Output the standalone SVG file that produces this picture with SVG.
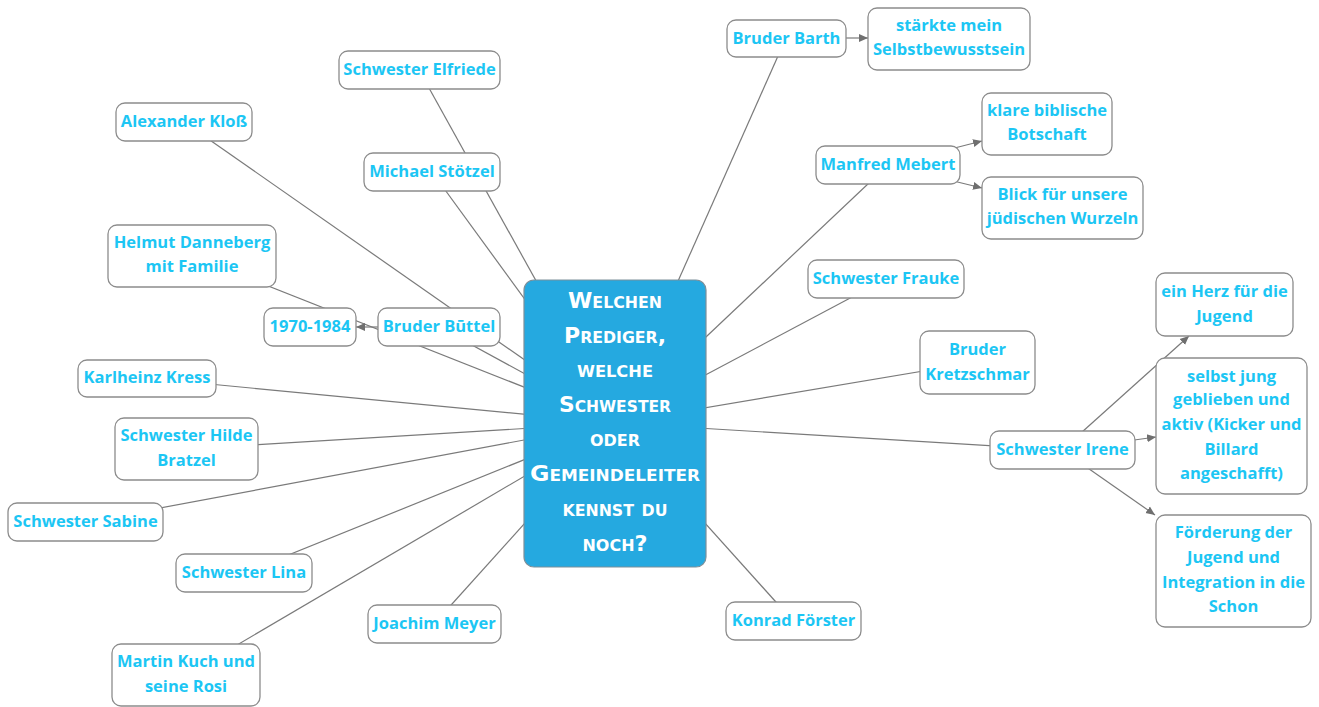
<svg xmlns="http://www.w3.org/2000/svg" width="1319" height="707" viewBox="0 0 1319 707">
<style>
.bg{fill:#ffffff}
.box{fill:#ffffff;stroke:#8c8c8c;stroke-width:1.3}
.t{font-family:"Open Sans","Noto Sans","DejaVu Sans",sans-serif;font-weight:bold;font-size:16.5px;fill:#1cc6f4;text-anchor:middle}
.c{stroke:#7a7a7a;stroke-width:1.2;fill:none}
.a{stroke:#7a7a7a;stroke-width:1.2;fill:none;marker-end:url(#ah)}
.core{fill:#25a9e0;stroke:#7d8f99;stroke-width:1.2}
.ct{font-family:"DejaVu Sans","Liberation Sans",sans-serif;font-weight:bold;font-variant:small-caps;font-size:21px;fill:#ffffff;text-anchor:middle}
</style>
<defs>
<marker id="ah" markerWidth="10" markerHeight="10" refX="9" refY="5" orient="auto" markerUnits="userSpaceOnUse">
<path d="M0,1 L9,5 L0,9 Z" fill="#6f6f6f"/>
</marker>
</defs>
<rect class="bg" x="0" y="0" width="1319" height="707"/>
<g id="connectors">
<line class="c" x1="786" y1="38" x2="615" y2="423"/>
<line class="c" x1="419" y1="70" x2="615" y2="423"/>
<line class="c" x1="184" y1="122" x2="615" y2="423"/>
<line class="c" x1="432" y1="172" x2="615" y2="423"/>
<line class="c" x1="888" y1="165" x2="615" y2="423"/>
<line class="c" x1="192" y1="256" x2="615" y2="423"/>
<line class="c" x1="886" y1="279" x2="615" y2="423"/>
<line class="c" x1="439" y1="327" x2="615" y2="423"/>
<line class="c" x1="977" y1="362" x2="615" y2="423"/>
<line class="c" x1="147" y1="378" x2="615" y2="423"/>
<line class="c" x1="186" y1="449" x2="615" y2="423"/>
<line class="c" x1="1062" y1="450" x2="615" y2="423"/>
<line class="c" x1="85" y1="522" x2="615" y2="423"/>
<line class="c" x1="244" y1="573" x2="615" y2="423"/>
<line class="c" x1="434" y1="624" x2="615" y2="423"/>
<line class="c" x1="793" y1="621" x2="615" y2="423"/>
<line class="c" x1="186" y1="675" x2="615" y2="423"/>
<line class="a" x1="846" y1="38" x2="868" y2="38"/>
<line class="a" x1="888" y1="165" x2="982" y2="141"/>
<line class="a" x1="888" y1="165" x2="982" y2="188"/>
<line class="a" x1="1062" y1="450" x2="1189" y2="336"/>
<line class="a" x1="1062" y1="450" x2="1156" y2="437"/>
<line class="a" x1="1062" y1="450" x2="1155" y2="515"/>
<line class="a" x1="378" y1="327" x2="356" y2="327"/>
</g>
<g id="center">
<rect class="core" x="524" y="280" width="182" height="287" rx="10"/>
<text class="ct" x="615" y="308" textLength="94" lengthAdjust="spacingAndGlyphs">Welchen</text>
<text class="ct" x="615" y="343" textLength="102" lengthAdjust="spacingAndGlyphs">Prediger,</text>
<text class="ct" x="615" y="377" textLength="76" lengthAdjust="spacingAndGlyphs">welche</text>
<text class="ct" x="615" y="412" textLength="112" lengthAdjust="spacingAndGlyphs">Schwester</text>
<text class="ct" x="615" y="446" textLength="50" lengthAdjust="spacingAndGlyphs">oder</text>
<text class="ct" x="615" y="481" textLength="170" lengthAdjust="spacingAndGlyphs">Gemeindeleiter</text>
<text class="ct" x="615" y="516" textLength="105" lengthAdjust="spacingAndGlyphs">kennst du</text>
<text class="ct" x="615" y="551" textLength="65" lengthAdjust="spacingAndGlyphs">noch?</text>
</g>
<g id="n-barth"><rect class="box" x="727" y="20" width="119" height="37" rx="9"/><text class="t" x="786.5" y="44">Bruder Barth</text></g>
<g id="n-staerkte"><rect class="box" x="868" y="8" width="162" height="62" rx="9"/><text class="t" x="949" y="31">stärkte mein</text><text class="t" x="949" y="55">Selbstbewusstsein</text></g>
<g id="n-elfriede"><rect class="box" x="339" y="51" width="161" height="38" rx="9"/><text class="t" x="419.5" y="75">Schwester Elfriede</text></g>
<g id="n-kloss"><rect class="box" x="116" y="103" width="136" height="38" rx="9"/><text class="t" x="184" y="127">Alexander Kloß</text></g>
<g id="n-stoetzel"><rect class="box" x="364" y="153" width="136" height="38" rx="9"/><text class="t" x="432" y="177">Michael Stötzel</text></g>
<g id="n-mebert"><rect class="box" x="816" y="146" width="144" height="38" rx="9"/><text class="t" x="888" y="170">Manfred Mebert</text></g>
<g id="n-klare"><rect class="box" x="982" y="93" width="130" height="62" rx="9"/><text class="t" x="1047" y="116">klare biblische</text><text class="t" x="1047" y="140">Botschaft</text></g>
<g id="n-blick"><rect class="box" x="982" y="177" width="161" height="62" rx="9"/><text class="t" x="1062.5" y="200">Blick für unsere</text><text class="t" x="1062.5" y="224">jüdischen Wurzeln</text></g>
<g id="n-helmut"><rect class="box" x="108" y="225" width="168" height="62" rx="9"/><text class="t" x="192" y="248">Helmut Danneberg</text><text class="t" x="192" y="272">mit Familie</text></g>
<g id="n-frauke"><rect class="box" x="808" y="260" width="156" height="38" rx="9"/><text class="t" x="886" y="284">Schwester Frauke</text></g>
<g id="n-1970"><rect class="box" x="264" y="308" width="92" height="38" rx="9"/><text class="t" x="310" y="332">1970-1984</text></g>
<g id="n-buettel"><rect class="box" x="378" y="308" width="122" height="38" rx="9"/><text class="t" x="439" y="332">Bruder Būttel</text></g>
<g id="n-kretzschmar"><rect class="box" x="920" y="331" width="115" height="63" rx="9"/><text class="t" x="977.5" y="355">Bruder</text><text class="t" x="977.5" y="380">Kretzschmar</text></g>
<g id="n-herz"><rect class="box" x="1156" y="273" width="137" height="63" rx="9"/><text class="t" x="1224.5" y="297">ein Herz für die</text><text class="t" x="1224.5" y="322">Jugend</text></g>
<g id="n-kress"><rect class="box" x="78" y="360" width="138" height="37" rx="9"/><text class="t" x="147" y="383">Karlheinz Kress</text></g>
<g id="n-selbst"><rect class="box" x="1156" y="358" width="151" height="136" rx="9"/><text class="t" x="1231.5" y="382">selbst jung</text><text class="t" x="1231.5" y="405">geblieben und</text><text class="t" x="1231.5" y="430">aktiv (Kicker und</text><text class="t" x="1231.5" y="455">Billard</text><text class="t" x="1231.5" y="479">angeschafft)</text></g>
<g id="n-hilde"><rect class="box" x="115" y="418" width="143" height="62" rx="9"/><text class="t" x="186.5" y="441">Schwester Hilde</text><text class="t" x="186.5" y="466">Bratzel</text></g>
<g id="n-irene"><rect class="box" x="990" y="431" width="145" height="38" rx="9"/><text class="t" x="1062.5" y="455">Schwester Irene</text></g>
<g id="n-sabine"><rect class="box" x="8" y="503" width="155" height="38" rx="9"/><text class="t" x="85.5" y="527">Schwester Sabine</text></g>
<g id="n-foerderung"><rect class="box" x="1156" y="515" width="155" height="112" rx="9"/><text class="t" x="1233.5" y="538">Förderung der</text><text class="t" x="1233.5" y="563">Jugend und</text><text class="t" x="1233.5" y="588">Integration in die</text><text class="t" x="1233.5" y="612">Schon</text></g>
<g id="n-lina"><rect class="box" x="176" y="554" width="136" height="38" rx="9"/><text class="t" x="244" y="578">Schwester Lina</text></g>
<g id="n-meyer"><rect class="box" x="368" y="605" width="133" height="38" rx="9"/><text class="t" x="434.5" y="629">Joachim Meyer</text></g>
<g id="n-foerster"><rect class="box" x="726" y="602" width="135" height="38" rx="9"/><text class="t" x="793.5" y="626">Konrad Förster</text></g>
<g id="n-kuch"><rect class="box" x="112" y="644" width="148" height="62" rx="9"/><text class="t" x="186" y="667">Martin Kuch und</text><text class="t" x="186" y="692">seine Rosi</text></g>
</svg>
